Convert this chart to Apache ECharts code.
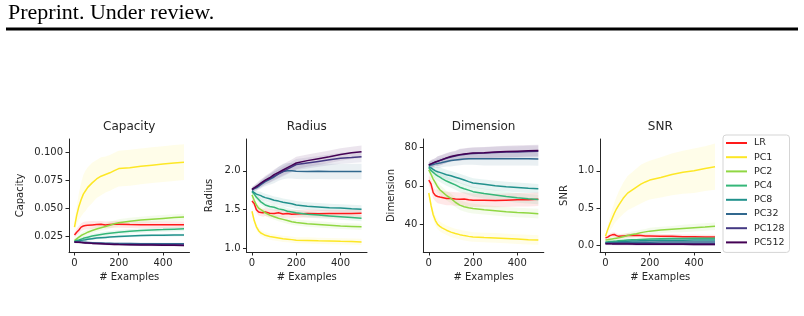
<!DOCTYPE html>
<html>
<head>
<meta charset="utf-8">
<script src="https://cdn.jsdelivr.net/npm/echarts@6/dist/echarts.min.js"></script>
<style>
html,body{margin:0;padding:0;background:#fff;}
#chart{width:804px;height:316px;}
</style>
</head>
<body>
<div id="chart"></div>
<script>
// ---------- data ----------
const X = [0,10,20,30,40,50,60,80,100,120,140,160,180,200,250,300,350,400,450,495];
const SERIES_NAMES = ['LR','PC1','PC2','PC4','PC8','PC32','PC128','PC512'];
const PANEL_TITLES = ['Capacity','Radius','Dimension','SNR'];
const X_TICKS = [0,200,400];
const CAP_TICKS = [0.025,0.05,0.075,0.1];
const RAD_TICKS = [1.0,1.5,2.0];
const DIM_TICKS = [40,60,80];
const SNR_TICKS = [0.0,0.5,1.0];

// Capacity means
const cap_LR    = [0.0265,0.029,0.031,0.0335,0.0345,0.035,0.0352,0.0355,0.0358,0.036,0.0355,0.0358,0.036,0.036,0.0358,0.0357,0.0356,0.0356,0.0357,0.0356];
const cap_PC1   = [0.0335,0.044,0.052,0.058,0.063,0.066,0.069,0.073,0.0765,0.079,0.0805,0.082,0.084,0.0858,0.0865,0.0878,0.0888,0.0898,0.0908,0.0915];
const cap_PC2   = [0.0215,0.023,0.0245,0.026,0.027,0.028,0.029,0.0305,0.0318,0.033,0.034,0.0352,0.0365,0.0375,0.0388,0.0398,0.0406,0.0413,0.042,0.0425];
const cap_PC4   = [0.021,0.0215,0.022,0.0228,0.0235,0.024,0.0245,0.0255,0.0263,0.027,0.0275,0.028,0.0285,0.029,0.0298,0.0305,0.031,0.0313,0.0317,0.032];
const cap_PC8   = [0.0205,0.021,0.0213,0.0218,0.022,0.0223,0.0227,0.0232,0.0237,0.024,0.0243,0.0246,0.0249,0.0252,0.0256,0.026,0.0262,0.0263,0.0264,0.0265];
const cap_PC32  = [0.0205,0.0203,0.0202,0.0201,0.02,0.0199,0.0198,0.0196,0.0194,0.0193,0.0192,0.0191,0.019,0.0189,0.0188,0.0187,0.0187,0.0186,0.0186,0.0186];
const cap_PC128 = [0.0203,0.0201,0.02,0.0199,0.0197,0.0196,0.0195,0.0192,0.019,0.0188,0.0186,0.0185,0.0184,0.0183,0.0181,0.018,0.0179,0.0178,0.0177,0.0176];
const cap_PC512 = [0.0202,0.02,0.0199,0.0197,0.0196,0.0194,0.0193,0.019,0.0188,0.0186,0.0184,0.0182,0.0181,0.018,0.0178,0.0176,0.0175,0.0174,0.0173,0.0172];
// Capacity spreads
const cap_LR_sd    = [0.002,0.003,0.0035,0.0035,0.0035,0.0035,0.0035,0.0035,0.003,0.003,0.003,0.003,0.003,0.003,0.003,0.003,0.003,0.003,0.003,0.003];
const cap_PC1_sd   = [0.004,0.008,0.012,0.015,0.017,0.018,0.018,0.018,0.017,0.017,0.016,0.016,0.016,0.016,0.016,0.016,0.016,0.016,0.016,0.016];
const cap_PC2_sd   = [0.002,0.002,0.002,0.002,0.0025,0.0025,0.0025,0.0025,0.0025,0.0025,0.003,0.003,0.003,0.003,0.003,0.003,0.003,0.003,0.003,0.003];
const cap_PC4_sd   = [0.0015,0.0015,0.0015,0.0015,0.0015,0.0015,0.0015,0.002,0.002,0.002,0.002,0.002,0.002,0.002,0.002,0.002,0.002,0.002,0.002,0.002];
const cap_PC8_sd   = [0.0012,0.0012,0.0012,0.0012,0.0012,0.0012,0.0012,0.0012,0.0012,0.0012,0.0012,0.0012,0.0012,0.0012,0.0012,0.0012,0.0012,0.0012,0.0012,0.0012];
const cap_PC32_sd  = [0.001,0.001,0.001,0.001,0.001,0.001,0.001,0.001,0.001,0.001,0.001,0.001,0.001,0.001,0.001,0.001,0.001,0.001,0.001,0.001];
const cap_PC128_sd = [0.001,0.001,0.001,0.001,0.001,0.001,0.001,0.001,0.001,0.001,0.001,0.001,0.001,0.001,0.001,0.001,0.001,0.001,0.001,0.001];
const cap_PC512_sd = [0.001,0.001,0.001,0.001,0.001,0.001,0.001,0.001,0.001,0.001,0.001,0.001,0.001,0.001,0.001,0.001,0.001,0.001,0.001,0.001];

// Radius means
const rad_LR    = [1.61,1.58,1.50,1.47,1.465,1.46,1.47,1.455,1.45,1.46,1.445,1.45,1.44,1.445,1.45,1.448,1.45,1.45,1.452,1.453];
const rad_PC1   = [1.48,1.36,1.28,1.23,1.20,1.185,1.17,1.155,1.145,1.135,1.125,1.12,1.115,1.107,1.105,1.10,1.097,1.093,1.09,1.086];
const rad_PC2   = [1.69,1.62,1.56,1.52,1.50,1.48,1.46,1.43,1.41,1.39,1.375,1.36,1.345,1.335,1.32,1.31,1.30,1.29,1.285,1.28];
const rad_PC4   = [1.73,1.70,1.66,1.63,1.60,1.58,1.56,1.54,1.53,1.51,1.50,1.48,1.47,1.46,1.44,1.43,1.42,1.41,1.40,1.39];
const rad_PC8   = [1.74,1.72,1.70,1.69,1.68,1.665,1.655,1.64,1.62,1.61,1.595,1.585,1.575,1.56,1.545,1.535,1.525,1.52,1.512,1.506];
const rad_PC32  = [1.75,1.77,1.78,1.80,1.82,1.84,1.86,1.89,1.92,1.96,1.99,2.0,2.0,1.995,1.99,1.995,1.99,1.99,1.99,1.99];
const rad_PC128 = [1.76,1.775,1.79,1.81,1.83,1.85,1.87,1.90,1.93,1.96,1.99,2.02,2.05,2.08,2.10,2.12,2.14,2.16,2.17,2.18];
const rad_PC512 = [1.76,1.78,1.80,1.82,1.84,1.86,1.88,1.91,1.95,1.98,2.01,2.04,2.07,2.10,2.13,2.155,2.18,2.21,2.23,2.245];
// Radius spreads
const rad_LR_sd    = [0.04,0.04,0.04,0.045,0.045,0.05,0.05,0.05,0.05,0.05,0.05,0.05,0.05,0.05,0.05,0.05,0.05,0.05,0.05,0.05];
const rad_PC1_sd   = [0.03,0.04,0.04,0.04,0.04,0.04,0.04,0.04,0.04,0.04,0.04,0.04,0.04,0.04,0.04,0.04,0.04,0.04,0.04,0.04];
const rad_PC2_sd   = [0.03,0.035,0.04,0.04,0.04,0.04,0.04,0.04,0.04,0.04,0.04,0.04,0.04,0.04,0.04,0.04,0.04,0.04,0.04,0.04];
const rad_PC4_sd   = [0.03,0.035,0.04,0.04,0.04,0.04,0.04,0.04,0.04,0.04,0.04,0.04,0.04,0.04,0.04,0.04,0.04,0.04,0.04,0.04];
const rad_PC8_sd   = [0.03,0.035,0.04,0.045,0.05,0.05,0.05,0.05,0.05,0.05,0.05,0.05,0.05,0.05,0.05,0.05,0.05,0.05,0.05,0.05];
const rad_PC32_sd  = [0.03,0.03,0.04,0.04,0.05,0.05,0.06,0.07,0.08,0.09,0.1,0.1,0.1,0.1,0.1,0.1,0.1,0.1,0.1,0.1];
const rad_PC128_sd = [0.03,0.035,0.04,0.04,0.045,0.05,0.05,0.055,0.06,0.06,0.065,0.065,0.07,0.07,0.07,0.07,0.07,0.07,0.07,0.07];
const rad_PC512_sd = [0.03,0.035,0.04,0.045,0.05,0.05,0.055,0.06,0.065,0.07,0.07,0.075,0.075,0.08,0.08,0.08,0.08,0.08,0.08,0.08];

// Dimension means
const dim_LR    = [63,61,56.5,55,54.5,54.2,54,53.5,53.5,53.2,53,53.2,52.8,52.5,52.6,52.4,52.6,52.8,52.8,53];
const dim_PC1   = [56.3,50,45,42,40,39,38.2,37,36,35.3,34.7,34.2,33.8,33.5,33.2,33,32.7,32.4,32.1,31.9];
const dim_PC2   = [68.3,66,63.5,61.5,59.5,58,57,55,53.5,51.5,50,49.2,48.6,48.2,47.6,47.1,46.6,46.2,45.9,45.6];
const dim_PC4   = [69.5,68,67,66,65.2,64.5,63.8,62.5,61.5,60.5,59.3,58.5,57.8,57,56,55.3,54.5,53.8,53.3,52.9];
const dim_PC8   = [70,69.3,68.5,67.8,67.3,67,66.6,65.8,65.2,64.5,63.8,63,62.2,61.5,60.8,60.1,59.6,59.2,58.8,58.5];
const dim_PC32  = [70.5,70.8,71.1,71.4,71.6,71.8,72.1,72.6,73.1,73.4,73.7,73.9,74,74,74.1,74,74,74,74,73.9];
const dim_PC128 = [70.8,71.3,71.8,72.3,72.7,73.1,73.5,74.3,75,75.5,76,76.3,76.6,76.8,77,77.3,77.5,77.6,77.8,77.9];
const dim_PC512 = [70.9,71.4,71.9,72.4,72.8,73.2,73.6,74.5,75.2,75.7,76.2,76.5,76.8,77,77.2,77.6,77.8,78,78.2,78.3];
// Dimension spreads
const dim_LR_sd    = [2.5,3,3,3,3.5,3.5,3.5,3.5,3.5,3.5,3.5,3.5,3.5,3.5,3.5,3.5,3.5,3.5,3.5,3.5];
const dim_PC1_sd   = [2,2.5,2.5,2.5,2.5,2.5,2.5,2.5,2.5,2.5,2.5,2.5,2.5,2.5,2.5,2.5,2.5,2.5,2.5,2.5];
const dim_PC2_sd   = [2,2,2.5,2.5,2.5,2.5,2.5,2.5,2.5,2.5,2.5,2.5,2.5,2.5,2.5,2.5,2.5,2.5,2.5,2.5];
const dim_PC4_sd   = [2,2,2,2.5,2.5,2.5,2.5,2.5,2.5,2.5,2.5,2.5,2.5,2.5,2.5,2.5,2.5,2.5,2.5,2.5];
const dim_PC8_sd   = [2,2,2,2,2.5,2.5,2.5,2.5,2.5,2.5,2.5,2.5,2.5,2.5,2.5,2.5,2.5,2.5,2.5,2.5];
const dim_PC32_sd  = [1.5,2,2,2,2.5,2.5,2.5,2.5,3,3,3,3,3,3,3.5,3.5,3.5,3.5,3.5,3.5];
const dim_PC128_sd = [1.5,2,2,2,2.5,2.5,2.5,2.5,2.5,2.5,3,3,3,3,3,3,3,3,3,3];
const dim_PC512_sd = [1.5,2,2,2,2.5,2.5,2.5,2.5,2.5,2.5,3,3,3,3,3,3,3,3,3,3];

// SNR means
const snr_LR    = [0.10,0.11,0.13,0.14,0.145,0.13,0.12,0.125,0.13,0.13,0.135,0.13,0.125,0.125,0.12,0.12,0.115,0.115,0.11,0.11];
const snr_PC1   = [0.12,0.21,0.29,0.36,0.43,0.49,0.54,0.63,0.70,0.74,0.78,0.82,0.85,0.875,0.91,0.95,0.98,1.00,1.03,1.054];
const snr_PC2   = [0.07,0.075,0.08,0.085,0.09,0.095,0.10,0.115,0.13,0.145,0.155,0.17,0.18,0.19,0.205,0.215,0.225,0.235,0.245,0.255];
const snr_PC4   = [0.045,0.047,0.05,0.052,0.055,0.057,0.06,0.065,0.07,0.073,0.076,0.079,0.082,0.085,0.088,0.09,0.092,0.093,0.094,0.095];
const snr_PC8   = [0.035,0.036,0.038,0.04,0.042,0.044,0.046,0.05,0.053,0.056,0.058,0.06,0.062,0.064,0.066,0.068,0.069,0.07,0.07,0.07];
const snr_PC32  = [0.03,0.03,0.031,0.032,0.033,0.034,0.035,0.036,0.037,0.038,0.039,0.04,0.041,0.042,0.043,0.044,0.044,0.045,0.045,0.045];
const snr_PC128 = [0.025,0.025,0.025,0.024,0.024,0.024,0.023,0.023,0.023,0.022,0.022,0.022,0.021,0.021,0.021,0.02,0.02,0.02,0.02,0.02];
const snr_PC512 = [0.02,0.02,0.02,0.019,0.019,0.018,0.018,0.017,0.016,0.016,0.015,0.015,0.014,0.014,0.013,0.013,0.013,0.012,0.012,0.012];
// SNR spreads
const snr_LR_sd    = [0.02,0.025,0.03,0.03,0.03,0.03,0.03,0.03,0.03,0.03,0.03,0.03,0.03,0.03,0.03,0.03,0.03,0.03,0.03,0.03];
const snr_PC1_sd   = [0.03,0.06,0.09,0.12,0.14,0.16,0.18,0.21,0.23,0.24,0.25,0.26,0.26,0.26,0.27,0.28,0.29,0.30,0.30,0.31];
const snr_PC2_sd   = [0.02,0.02,0.025,0.025,0.03,0.03,0.03,0.035,0.035,0.04,0.04,0.04,0.04,0.045,0.045,0.045,0.05,0.05,0.05,0.05];
const snr_PC4_sd   = [0.02,0.02,0.02,0.02,0.02,0.02,0.02,0.02,0.02,0.02,0.02,0.02,0.02,0.02,0.02,0.02,0.02,0.02,0.02,0.02];
const snr_PC8_sd   = [0.02,0.02,0.02,0.02,0.02,0.02,0.02,0.02,0.02,0.02,0.02,0.02,0.02,0.02,0.02,0.02,0.02,0.02,0.02,0.02];
const snr_PC32_sd  = [0.02,0.02,0.02,0.02,0.02,0.02,0.02,0.02,0.02,0.02,0.02,0.02,0.02,0.02,0.02,0.02,0.02,0.02,0.02,0.02];
const snr_PC128_sd = [0.02,0.02,0.02,0.02,0.02,0.02,0.02,0.02,0.02,0.02,0.02,0.02,0.02,0.02,0.02,0.02,0.02,0.02,0.02,0.02];
const snr_PC512_sd = [0.02,0.02,0.02,0.02,0.02,0.02,0.02,0.02,0.02,0.02,0.02,0.02,0.02,0.02,0.02,0.02,0.02,0.02,0.02,0.02];

// ---------- styling ----------
const COLORS = ['#ff1a1a','#fde725','#90d743','#35b779','#21918c','#31688e','#443983','#440154'];
const FONT = 'DejaVu Sans';
const TXT = '#262626';

const panels = [
  {title:'Capacity', ylabel:'Capacity', ymin:0.0113, ymax:0.1122, ticks:CAP_TICKS, dec:3, gap:44,
   means:[cap_LR,cap_PC1,cap_PC2,cap_PC4,cap_PC8,cap_PC32,cap_PC128,cap_PC512],
   sds:[cap_LR_sd,cap_PC1_sd,cap_PC2_sd,cap_PC4_sd,cap_PC8_sd,cap_PC32_sd,cap_PC128_sd,cap_PC512_sd], left:69},
  {title:'Radius', ylabel:'Radius', ymin:0.956, ymax:2.408, ticks:RAD_TICKS, dec:1, gap:32,
   means:[rad_LR,rad_PC1,rad_PC2,rad_PC4,rad_PC8,rad_PC32,rad_PC128,rad_PC512],
   sds:[rad_LR_sd,rad_PC1_sd,rad_PC2_sd,rad_PC4_sd,rad_PC8_sd,rad_PC32_sd,rad_PC128_sd,rad_PC512_sd], left:246.5},
  {title:'Dimension', ylabel:'Dimension', ymin:25.7, ymax:84.3, ticks:DIM_TICKS, dec:0, gap:27,
   means:[dim_LR,dim_PC1,dim_PC2,dim_PC4,dim_PC8,dim_PC32,dim_PC128,dim_PC512],
   sds:[dim_LR_sd,dim_PC1_sd,dim_PC2_sd,dim_PC4_sd,dim_PC8_sd,dim_PC32_sd,dim_PC128_sd,dim_PC512_sd], left:423.3},
  {title:'SNR', ylabel:'SNR', ymin:-0.09, ymax:1.426, ticks:SNR_TICKS, dec:1, gap:31,
   means:[snr_LR,snr_PC1,snr_PC2,snr_PC4,snr_PC8,snr_PC32,snr_PC128,snr_PC512],
   sds:[snr_LR_sd,snr_PC1_sd,snr_PC2_sd,snr_PC4_sd,snr_PC8_sd,snr_PC32_sd,snr_PC128_sd,snr_PC512_sd], left:600}
];

const GRID_TOP = 139, GRID_H = 113, GRID_W = 120.5;
const XMIN = -24.75, XMAX = 519.75;

const grids = [], xAxes = [], yAxes = [], series = [], graphics = [];

graphics.push({type:'text', x:8, y:13.3, style:{text:'Preprint. Under review.', font:'22px "Liberation Serif"', fill:'#000', align:'left', verticalAlign:'middle'}});
graphics.push({type:'rect', shape:{x:6, y:27.5, width:792, height:3}, style:{fill:'#000'}});

panels.forEach((p, pi) => {
  grids.push({left:p.left, top:GRID_TOP, width:GRID_W, height:GRID_H, containLabel:false});
  xAxes.push({
    type:'value', gridIndex:pi, min:XMIN, max:XMAX,
    name:'# Examples', nameLocation:'middle', nameGap:20,
    nameTextStyle:{fontFamily:FONT, fontSize:10, color:TXT},
    axisLine:{show:true, onZero:false, lineStyle:{color:TXT, width:1}},
    axisTick:{show:true, length:3.5, customValues:X_TICKS, lineStyle:{color:TXT}},
    axisLabel:{customValues:X_TICKS, fontFamily:FONT, fontSize:10, color:TXT, margin:6},
    splitLine:{show:false}
  });
  yAxes.push({
    type:'value', gridIndex:pi, min:p.ymin, max:p.ymax,
    name:p.ylabel, nameLocation:'middle', nameGap:p.gap, nameRotate:90,
    nameTextStyle:{fontFamily:FONT, fontSize:10, color:TXT},
    axisLine:{show:true, onZero:false, lineStyle:{color:TXT, width:1}},
    axisTick:{show:true, length:3.5, customValues:p.ticks, lineStyle:{color:TXT}},
    axisLabel:{customValues:p.ticks, fontFamily:FONT, fontSize:10, color:TXT, margin:6,
      formatter:(v)=>Number(v).toFixed(p.dec)},
    splitLine:{show:false}
  });
  graphics.push({type:'text', x:p.left + GRID_W/2, y:127,
    style:{text:p.title, font:'12px "DejaVu Sans"', fill:TXT, align:'center', verticalAlign:'middle'}});

  SERIES_NAMES.forEach((name, si) => {
    const m = p.means[si], sd = p.sds[si], col = COLORS[si];
    series.push({
      type:'custom', name:name + '_band', xAxisIndex:pi, yAxisIndex:pi, silent:true,
      data: X.map((x,i)=>[x, m[i]-sd[i], m[i]+sd[i]]),
      renderItem:(params, api) => {
        if (params.dataIndex !== 0) return null;
        const pts = [];
        for (let i=0;i<X.length;i++) pts.push(api.coord([X[i], m[i]-sd[i]]));
        for (let i=X.length-1;i>=0;i--) pts.push(api.coord([X[i], m[i]+sd[i]]));
        return {type:'polygon', shape:{points:pts}, style:{fill:col, opacity:0.1}};
      },
      z:1
    });
    series.push({
      type:'line', name:name, xAxisIndex:pi, yAxisIndex:pi,
      data: X.map((x,i)=>[x, m[i]]),
      showSymbol:false, symbol:'none', smooth:false,
      lineStyle:{color:col, width:1.5}, itemStyle:{color:col},
      z:2
    });
  });
});

const chart = echarts.init(document.getElementById('chart'), null, {renderer:'canvas'});
chart.setOption({
  animation:false,
  backgroundColor:'#fff',
  grid:grids, xAxis:xAxes, yAxis:yAxes, series:series,
  graphic:graphics,
  legend:{
    data:SERIES_NAMES, orient:'vertical', left:723, top:135,
    icon:'rect', itemWidth:21, itemHeight:2, itemGap:2.2,
    textStyle:{fontFamily:FONT, fontSize:9.5, color:TXT, lineHeight:12, padding:[0,0,0,2]},
    backgroundColor:'#fff', borderColor:'#d5d5d5', borderWidth:1, borderRadius:3,
    padding:[2,5,4,3], selectedMode:false
  }
});
</script>
</body>
</html>
